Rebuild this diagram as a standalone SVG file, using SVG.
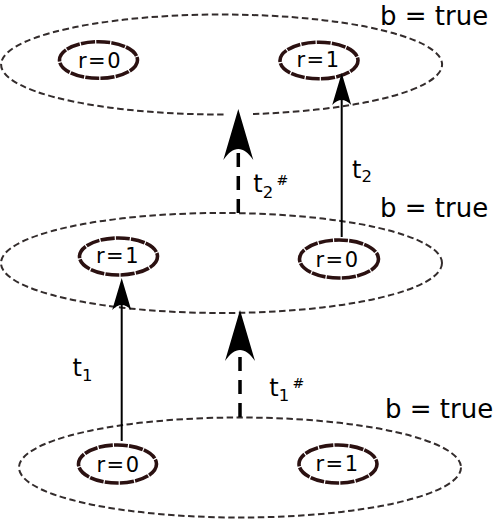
<svg xmlns="http://www.w3.org/2000/svg" width="499" height="520" viewBox="0 0 499 520">
  <style>
    .state { fill: none; stroke: #332c2c; stroke-width: 2; stroke-dasharray: 6.5 3.5; }
    .node { fill: none; stroke: #2b1111; stroke-width: 3.6; stroke-dasharray: 14 1.2; }
    .lbl { font-family: "DejaVu Sans", "Liberation Sans", sans-serif; font-size: 21px; letter-spacing: 1.5px; text-anchor: middle; fill: #000; }
    .cond { font-family: "DejaVu Sans", "Liberation Sans", sans-serif; font-size: 26px; fill: #000; }
    .tl { font-family: "DejaVu Sans", "Liberation Sans", sans-serif; font-size: 24px; fill: #000; }
    .sub { font-size: 16.5px; }
    .sup { font-family: "DejaVu Sans", "Liberation Sans", sans-serif; font-size: 14px; fill: #000; }
    .solid { fill: none; stroke: #000; stroke-width: 2; }
    .dash { fill: none; stroke: #000; stroke-width: 3.5; stroke-dasharray: 14 9; }
  </style>
  <defs>
    <marker id="headSolid" markerUnits="userSpaceOnUse" orient="auto" viewBox="0 -10 33 20" markerWidth="33" markerHeight="20" refX="5" refY="0" overflow="visible">
      <path d="M32,0 L0,-9.5 C6.7,-3 6.7,3 0,9.5 Z" fill="#000"/>
    </marker>
    <marker id="headDash" markerUnits="userSpaceOnUse" orient="auto" viewBox="0 -16 52 32" markerWidth="52" markerHeight="32" refX="11" refY="0" overflow="visible">
      <path d="M51,0 L0,-15 C14.7,-5 14.7,5 0,15 Z" fill="#000"/>
    </marker>
  </defs>

  <!-- state ellipses -->
  <g id="state-top">
    <path class="state" d="M253,114 A220.5,50 0 1 0 226,114.5"/>
    <text class="cond" x="380" y="24.5">b = true</text>
  </g>
  <g id="state-middle">
    <ellipse class="state" cx="221.5" cy="263" rx="220.5" ry="50"/>
    <text class="cond" x="380" y="216.7">b = true</text>
  </g>
  <g id="state-bottom">
    <ellipse class="state" cx="240" cy="467.5" rx="221" ry="50"/>
    <text class="cond" x="385" y="418.3">b = true</text>
  </g>

  <!-- nodes -->
  <g id="top-r0">
    <ellipse class="node" cx="98.5" cy="60" rx="39" ry="18.3"/>
    <text class="lbl" x="100" y="67.5">r=0</text>
  </g>
  <g id="top-r1">
    <ellipse class="node" cx="319" cy="60.5" rx="39" ry="18.3"/>
    <text class="lbl" x="318.5" y="66.5">r=1</text>
  </g>
  <g id="mid-r1">
    <ellipse class="node" cx="118.5" cy="256.5" rx="39" ry="18.5"/>
    <text class="lbl" x="118" y="262.5">r=1</text>
  </g>
  <g id="mid-r0">
    <ellipse class="node" cx="339" cy="259" rx="39.5" ry="19"/>
    <text class="lbl" x="337.5" y="267">r=0</text>
  </g>
  <g id="bot-r0">
    <ellipse class="node" cx="117.5" cy="464" rx="39" ry="19"/>
    <text class="lbl" x="118.5" y="472">r=0</text>
  </g>
  <g id="bot-r1">
    <ellipse class="node" cx="338" cy="464" rx="39" ry="19"/>
    <text class="lbl" x="337.5" y="470.5">r=1</text>
  </g>

  <!-- connectors -->
  <g id="connectors">
    <line class="solid" x1="121.7" y1="441" x2="121.7" y2="305" marker-end="url(#headSolid)"/>
    <line class="solid" x1="341.7" y1="237" x2="341.7" y2="100" marker-end="url(#headSolid)"/>
    <line class="dash" x1="238.3" y1="213" x2="238.3" y2="149" marker-end="url(#headDash)"/>
    <line class="dash" x1="240" y1="417" x2="240" y2="350" marker-end="url(#headDash)"/>
  </g>

  <!-- transition labels -->
  <g id="label-t1">
    <text class="tl" x="72.6" y="376">t<tspan class="sub" dy="5">1</tspan></text>
  </g>
  <g id="label-t2">
    <text class="tl" x="352" y="178">t<tspan class="sub" dy="4">2</tspan></text>
  </g>
  <g id="label-t2s">
    <text class="tl" x="253.3" y="192">t<tspan class="sub" dy="6">2</tspan></text>
    <text class="sup" x="276.5" y="184.5">#</text>
  </g>
  <g id="label-t1s">
    <text class="tl" x="269.3" y="395.5">t<tspan class="sub" dy="5">1</tspan></text>
    <text class="sup" x="292.5" y="387.5">#</text>
  </g>
</svg>
